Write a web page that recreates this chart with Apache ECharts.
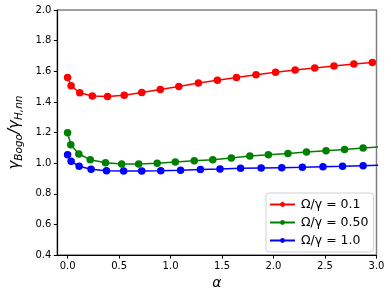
<!DOCTYPE html>
<html>
<head>
<meta charset="utf-8">
<script src="https://cdn.jsdelivr.net/npm/echarts@6/dist/echarts.min.js"></script>
<style>html,body{margin:0;padding:0;background:#fff;}#c{width:391px;height:295px;}</style>
</head>
<body>
<div id="c"></div>
<script>
// Data
const alphaRed   = [0, 0.034, 0.118, 0.24, 0.388, 0.55, 0.72, 0.90, 1.08, 1.27, 1.455, 1.64, 1.83, 2.02, 2.21, 2.40, 2.587, 2.78, 2.96];
const gammaRed   = [1.559, 1.505, 1.46, 1.438, 1.436, 1.444, 1.462, 1.481, 1.501, 1.523, 1.542, 1.559, 1.577, 1.593, 1.609, 1.622, 1.635, 1.648, 1.658];
const alphaGreen = [0, 0.031, 0.109, 0.22, 0.368, 0.525, 0.69, 0.87, 1.046, 1.23, 1.41, 1.59, 1.77, 1.95, 2.14, 2.32, 2.51, 2.69, 2.87, 3.05];
const gammaGreen = [1.198, 1.12, 1.06, 1.023, 1.003, 0.995, 0.994, 1.0, 1.008, 1.016, 1.023, 1.034, 1.047, 1.055, 1.064, 1.073, 1.081, 1.09, 1.099, 1.107];
const alphaBlue  = [0, 0.034, 0.112, 0.228, 0.378, 0.544, 0.72, 0.905, 1.097, 1.29, 1.48, 1.68, 1.88, 2.08, 2.28, 2.48, 2.67, 2.87, 3.07];
const gammaBlue  = [1.055, 1.012, 0.98, 0.96, 0.951, 0.949, 0.949, 0.951, 0.954, 0.958, 0.962, 0.967, 0.969, 0.971, 0.973, 0.977, 0.98, 0.984, 0.988];
const seriesNames = ['Ω/γ = 0.1', 'Ω/γ = 0.50', 'Ω/γ = 1.0'];
const xTicks = [0, 0.5, 1.0, 1.5, 2.0, 2.5, 3.0];

const zip = (xs, ys) => xs.map((x, i) => [x, ys[i]]);
const FONT = 'DejaVu Sans';
const chart = echarts.init(document.getElementById('c'), null, {renderer: 'canvas'});

function mkSeries(name, data, color) {
  return {
    name: name, type: 'line', data: data, clip: true,
    symbol: 'circle', symbolSize: 7.5,
    lineStyle: {color: color, width: 1.5},
    itemStyle: {color: color},
    emphasis: {disabled: true}, animation: false
  };
}

chart.setOption({
  animation: false,
  grid: {left: 46, right: 14.5, top: 10, bottom: 38.5, show: true, borderColor: '#808080', borderWidth: 1.5, backgroundColor: 'transparent'},
  xAxis: {
    type: 'value', min: -0.1, max: 3.0,
    name: 'α', nameLocation: 'middle', nameGap: 18,
    nameTextStyle: {fontFamily: FONT, fontSize: 14, fontStyle: 'italic', color: '#000'},
    axisLine: {show: true, onZero: false, lineStyle: {color: '#000', width: 1.2}},
    axisTick: {show: true, customValues: xTicks, length: 3.5, lineStyle: {color: '#000', width: 1}},
    axisLabel: {customValues: xTicks, formatter: v => v.toFixed(1), fontFamily: FONT, fontSize: 10, color: '#000', margin: 6},
    splitLine: {show: false}
  },
  yAxis: {
    type: 'value', min: 0.4, max: 2.0, interval: 0.2,
    name: 'γ{s|Bogo}/γ{s|H,nn}', nameLocation: 'middle', nameGap: 24, nameRotate: 90,
    nameTextStyle: {
      fontFamily: FONT, fontSize: 15, fontStyle: 'italic', color: '#000',
      rich: {s: {fontFamily: FONT, fontSize: 10.5, fontStyle: 'italic', color: '#000', padding: [7, 0, 0, 0]}}
    },
    axisLine: {show: true, onZero: false, lineStyle: {color: '#000', width: 1.2}},
    axisTick: {show: true, length: 3.5, lineStyle: {color: '#000', width: 1}},
    axisLabel: {formatter: v => v.toFixed(1), fontFamily: FONT, fontSize: 10, color: '#000', margin: 6},
    splitLine: {show: false}
  },
  legend: {
    left: 266, top: 193, orient: 'vertical',
    data: seriesNames,
    itemWidth: 25, itemHeight: 6, itemGap: 5,
    padding: [5, 5, 5, 3],
    borderColor: '#d0d0d0', borderWidth: 1, borderRadius: 3, backgroundColor: 'rgba(255,255,255,0.8)',
    textStyle: {fontFamily: FONT, fontSize: 12.5, color: '#000', padding: [0, 0, 0, 1]},
    itemStyle: {borderWidth: 0}
  },
  series: [
    mkSeries(seriesNames[0], zip(alphaRed, gammaRed), '#ff0000'),
    mkSeries(seriesNames[1], zip(alphaGreen, gammaGreen), '#008000'),
    mkSeries(seriesNames[2], zip(alphaBlue, gammaBlue), '#0000ff')
  ]
});
</script>
</body>
</html>
